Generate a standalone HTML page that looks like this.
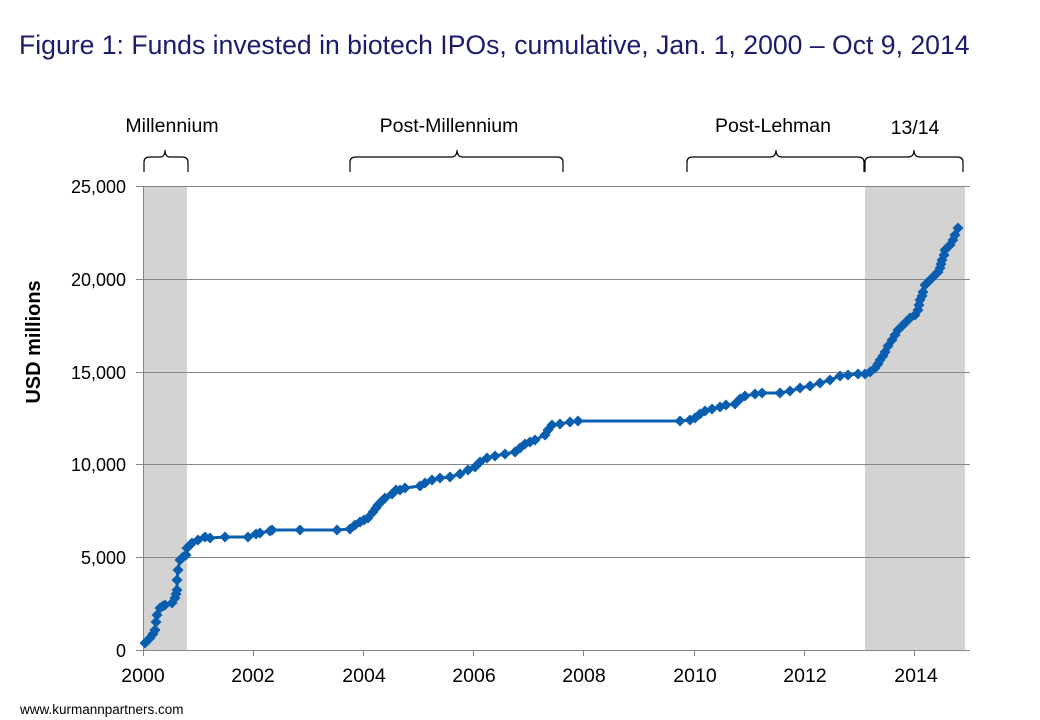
<!DOCTYPE html>
<html><head><meta charset="utf-8"><style>
body{margin:0;background:#fff;}
svg{display:block;font-family:"Liberation Sans",sans-serif;}
</style></head><body>
<svg width="1040" height="720" viewBox="0 0 1040 720">
<defs>
<marker id="d" markerWidth="12" markerHeight="12" refX="6" refY="6" markerUnits="userSpaceOnUse">
<path d="M6 0.5 L11.5 6 L6 11.5 L0.5 6Z" fill="#0a5eb0"/></marker>
</defs>
<text x="19" y="54" font-size="26.6" fill="#1c1c6c">Figure 1: Funds invested in biotech IPOs, cumulative, Jan. 1, 2000 – Oct 9, 2014</text>
<rect x="143" y="186" width="44" height="464" fill="#d3d3d3"/>
<rect x="865" y="186" width="100" height="464" fill="#d3d3d3"/>
<g stroke="#868686" stroke-width="1">
<line x1="136" y1="186.5" x2="970" y2="186.5"/>
<line x1="136" y1="279.5" x2="970" y2="279.5"/>
<line x1="136" y1="372.5" x2="970" y2="372.5"/>
<line x1="136" y1="464.5" x2="970" y2="464.5"/>
<line x1="136" y1="557.5" x2="970" y2="557.5"/>
<line x1="136" y1="650.5" x2="970" y2="650.5"/>
<line x1="143.5" y1="186" x2="143.5" y2="656"/>
<line x1="253.5" y1="650" x2="253.5" y2="656"/>
<line x1="363.5" y1="650" x2="363.5" y2="656"/>
<line x1="473.5" y1="650" x2="473.5" y2="656"/>
<line x1="583.5" y1="650" x2="583.5" y2="656"/>
<line x1="694.5" y1="650" x2="694.5" y2="656"/>
<line x1="804.5" y1="650" x2="804.5" y2="656"/>
<line x1="914.5" y1="650" x2="914.5" y2="656"/>
</g>
<g font-size="18" fill="#000" text-anchor="end">
<text x="126" y="193">25,000</text><text x="126" y="286">20,000</text><text x="126" y="379">15,000</text>
<text x="126" y="471">10,000</text><text x="126" y="564">5,000</text><text x="126" y="657">0</text>
</g>
<g font-size="19.5" fill="#000" text-anchor="middle">
<text x="143" y="682">2000</text><text x="253" y="682">2002</text><text x="364" y="682">2004</text><text x="474" y="682">2006</text>
<text x="584" y="682">2008</text><text x="695" y="682">2010</text><text x="805" y="682">2012</text><text x="916" y="682">2014</text>
</g>
<text transform="translate(40,342) rotate(-90)" font-size="20" font-weight="bold" text-anchor="middle">USD millions</text>
<polyline fill="none" stroke="#0a5eb0" stroke-width="3" marker-start="url(#d)" marker-mid="url(#d)" marker-end="url(#d)" points="145,643 150,638 153,634 155,630 156,622 157,615 160,608 163,606 165,605 172,603 175,598 176,594 177,590 177,580 178,570 180,560 183,557 186,555 187,548 190,545 192,543 198,540 205,537 210,538 225,537 248,537 256,534 260,533 270,531 272,530 300,530 337,530 350,529 355,525 360,522 364,520 368,518 373,512 376,508 378,505 382,501 385,498 392,494 396,490 400,490 405,488 420,486 425,483 432,480 440,478 450,477 460,474 468,470 475,467 480,462 487,458 495,456 505,454 515,452 520,448 525,444 530,442 535,440 545,435 548,430 552,425 560,424 570,422 578,421 680,421 690,420 695,418 700,414 705,411 712,409 720,407 726,405 735,404 740,399 745,396 755,394 762,393 780,393 790,391 800,388 810,386 820,383 830,380 840,376 848,375 858,374 865,374 870,372 875,368 878,364 880,360 883,356 885,352 888,346 892,340 895,335 898,330 902,326 905,323 910,318 915,315 918,310 919,305 920,300 922,296 923,292 925,285 930,280 935,275 938,272 940,268 941,264 942,260 944,255 945,250 950,245 953,240 955,235 958,228"/>
<g fill="none" stroke="#000" stroke-width="1.2">
<path d="M144 172 V162 Q144 157 150 157 H160 Q165 157 165 150 Q165 157 170 157 H182 Q188 157 188 162 V172"/>
<path d="M350 172 V162 Q350 157 356 157 H451 Q457 157 457 150 Q457 157 463 157 H557 Q563 157 563 162 V172"/>
<path d="M687 172 V162 Q687 157 693 157 H770 Q776 157 776 150 Q776 157 782 157 H858 Q864 157 864 162 V172"/>
<path d="M865 172 V162 Q865 157 871 157 H908 Q914 157 914 150 Q914 157 920 157 H957 Q963 157 963 162 V172"/>
</g>
<g font-size="19.5" fill="#000" text-anchor="middle">
<text x="172" y="132">Millennium</text>
<text x="449" y="132">Post-Millennium</text>
<text x="773" y="132">Post-Lehman</text>
<text x="915" y="134">13/14</text>
</g>
<text x="20" y="714" font-size="13.5" fill="#000">www.kurmannpartners.com</text>
</svg>
</body></html>
